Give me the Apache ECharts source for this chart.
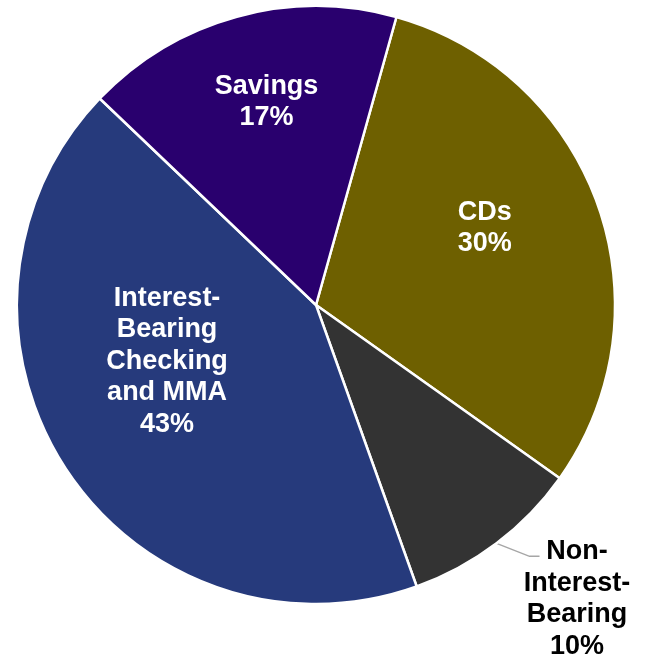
<!DOCTYPE html>
<html><head><meta charset="utf-8">
<script src="https://cdn.jsdelivr.net/npm/echarts@6/dist/echarts.min.js"></script>
<style>html,body{margin:0;padding:0;background:#fff}#c{width:646px;height:663px}</style>
</head><body><div id="c"></div>
<script>
const categories = ['CDs', 'Non-\nInterest-\nBearing', 'Interest-\nBearing\nChecking\nand MMA', 'Savings'];
const values = [30.5, 9.7, 42.6, 17.2];
const percentLabels = ['30%', '10%', '43%', '17%'];
const colors = ['#6e6000', '#333333', '#263a7c', '#29006e'];
const labelOffsets = [[25, -26], null, [-21, -27], [-9, -56]];

const chart = echarts.init(document.getElementById('c'));
const data = categories.map((n, i) => {
  const d = { name: n, value: values[i], itemStyle: { color: colors[i] } };
  if (i === 1) {
    d.label = { position: 'outside', color: '#000' };
    d.labelLine = { show: true, length: 12, length2: 14, lineStyle: { color: '#a6a6a6', width: 1.5 } };
  } else {
    d.label = { position: 'inside', color: '#fff', offset: labelOffsets[i] };
    d.labelLine = { show: false };
  }
  return d;
});
chart.setOption({
  animation: false,
  series: [{
    type: 'pie',
    center: [316, 305],
    radius: [0, 299],
    startAngle: 74.4,
    clockwise: true,
    avoidLabelOverlap: false,
    itemStyle: { borderColor: '#fff', borderWidth: 2.5 },
    label: {
      show: true,
      formatter: p => p.name + '\n' + percentLabels[p.dataIndex],
      fontFamily: '"Liberation Sans", Arial, sans-serif',
      fontWeight: 'bold',
      fontSize: 27,
      lineHeight: 31.5,
      align: 'center'
    },
    labelLayout: function (params) {
      if (params.dataIndex === 1) {
        const p0 = params.labelLinePoints ? params.labelLinePoints[0] : null;
        const out = { x: 577, y: 599, align: 'center', verticalAlign: 'middle' };
        if (p0) {
          out.labelLinePoints = [p0, [p0[0] + 33, p0[1] + 13], [p0[0] + 43, p0[1] + 13]];
        }
        return out;
      }
    },
    data: data
  }]
});
</script></body></html>
